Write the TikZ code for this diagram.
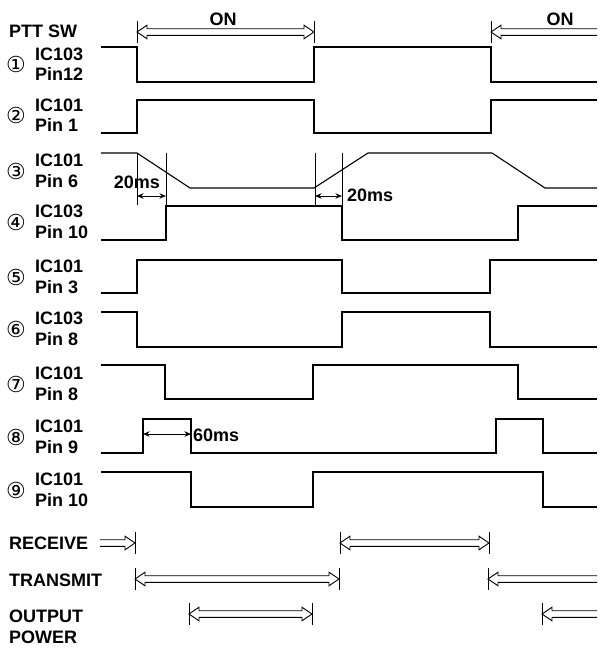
\documentclass[tikz,border=0pt]{standalone}
\usepackage{fontspec}
\setmainfont{Liberation Sans}
\newfontfamily\circfont{DejaVu Sans}
\usepackage{tikz}
\usetikzlibrary{arrows.meta}
\usetikzlibrary{positioning}

\tikzset{
  wave/.style={line width=1.1pt, line join=miter},
  tickbar/.style={line width=0.9pt},
  fat/.style={line width=0.9pt, line join=miter},
  dim/.style={line width=1pt, {Stealth[length=6.5pt,width=5.5pt]}-{Stealth[length=6.5pt,width=5.5pt]}},
  lbl/.style={anchor=west, inner sep=0pt, align=left, font=\fontsize{18}{20.5}\selectfont\bfseries},
  numlbl/.style={inner sep=0pt, font=\circfont\fontsize{22}{22}\selectfont}
}

\newcommand{\circnum}[1]{\ifcase#1\or ①\or ②\or ③\or ④\or ⑤\or ⑥\or ⑦\or ⑧\or ⑨\fi}

% Hollow double-line arrows: head at the end, at the start, or both
\newcommand{\fatright}[2]{\draw[fat] ([yshift=3.3pt]#1) -- ([xshift=-10pt,yshift=3.3pt]#2)
  -- ([xshift=-10pt,yshift=6.8pt]#2) -- (#2) -- ([xshift=-10pt,yshift=-6.8pt]#2)
  -- ([xshift=-10pt,yshift=-3.3pt]#2) -- ([yshift=-3.3pt]#1);}
\newcommand{\fatleft}[2]{\draw[fat] ([yshift=3.3pt]#2) -- ([xshift=10pt,yshift=3.3pt]#1)
  -- ([xshift=10pt,yshift=6.8pt]#1) -- (#1) -- ([xshift=10pt,yshift=-6.8pt]#1)
  -- ([xshift=10pt,yshift=-3.3pt]#1) -- ([yshift=-3.3pt]#2);}
\newcommand{\fatboth}[2]{\draw[fat] ([xshift=10pt,yshift=3.3pt]#1) -- ([xshift=-10pt,yshift=3.3pt]#2)
  -- ([xshift=-10pt,yshift=6.8pt]#2) -- (#2) -- ([xshift=-10pt,yshift=-6.8pt]#2)
  -- ([xshift=-10pt,yshift=-3.3pt]#2) -- ([xshift=10pt,yshift=-3.3pt]#1)
  -- ([xshift=10pt,yshift=-6.8pt]#1) -- (#1) -- ([xshift=10pt,yshift=6.8pt]#1) -- cycle;}

\begin{document}
\begin{tikzpicture}[x=1pt, y=-1pt]
        \useasboundingbox (0,0) rectangle (609,651);

        % Signal names
        \node[lbl] (ptt) at (9,31) {PTT SW};
        \foreach \n/\chip/\pin/\yc in {1/IC103/Pin12/64, 2/IC101/Pin 1/115,
            3/IC101/Pin 6/171, 4/IC103/Pin 10/222, 5/IC101/Pin 3/277,
            6/IC103/Pin 8/329, 7/IC101/Pin 8/384, 8/IC101/Pin 9/437,
            9/IC101/Pin 10/490} {
          \node[numlbl] (n\n) at (16,\yc) {\circnum{\n}};
          \node[lbl] (s\n) at (35,\yc) {\chip\\\pin};
        }
        \node[lbl] (rxl) at (9,543) {RECEIVE};
        \node[lbl] (txl) at (9,580) {TRANSMIT};
        \node[lbl] (opl) at (9,627) {OUTPUT\\POWER};

        % Waveforms
        \draw[wave] (101,47) -- (137,47) -- (137,82) -- (314,82) -- (314,47) -- (491,47) -- (491,82) -- (597,82);
        \draw[wave] (101,133) -- (137,133) -- (137,100) -- (314,100) -- (314,133) -- (491,133) -- (491,100) -- (597,100);
        \draw[wave] (101,153) -- (137,153) -- (190,188) -- (314,188) -- (368,153) -- (492,153) -- (545,188) -- (597,188);
        \draw[wave] (101,240) -- (166,240) -- (166,206) -- (342,206) -- (342,240) -- (518,240) -- (518,206) -- (597,206);
        \draw[wave] (101,293) -- (137,293) -- (137,260) -- (342,260) -- (342,293) -- (490,293) -- (490,260) -- (597,260);
        \draw[wave] (101,312) -- (137,312) -- (137,347) -- (342,347) -- (342,312) -- (490,312) -- (490,347) -- (597,347);
        \draw[wave] (101,365) -- (165,365) -- (165,399) -- (313,399) -- (313,365) -- (518,365) -- (518,399) -- (597,399);
        \draw[wave] (101,453) -- (143,453) -- (143,419) -- (191,419) -- (191,453) -- (496,453) -- (496,419) -- (543,419) -- (543,453) -- (597,453);
        \draw[wave] (101,472) -- (191,472) -- (191,507) -- (313,507) -- (313,472) -- (543,472) -- (543,507) -- (597,507);

        % Delay marks
        \draw[tickbar] (137,153) -- (137,205);
        \draw[tickbar] (166,153) -- (166,206);
        \draw[tickbar] (315,153) -- (315,206);
        \draw[tickbar] (342,153) -- (342,206);
        \coordinate (dA1) at (137,196); \coordinate (dA2) at (166,196);
        \coordinate (dB1) at (315,196); \coordinate (dB2) at (342,196);
        \coordinate (dC1) at (143,434); \coordinate (dC2) at (191,434);
        \draw[dim] (dA1) -- (dA2);
        \draw[dim] (dB1) -- (dB2);
        \draw[dim] (dC1) -- (dC2);
        \node[lbl, anchor=east] (tA) at (160,182) {20ms};
        \node[lbl] (tB) at (347,195) {20ms};
        \node[lbl] (tC) at (193,435) {60ms};

        % Period arrows
        \coordinate (on1) at (137,32); \coordinate (off1) at (314,32);
        \coordinate (on2) at (491,32); \coordinate (onR) at (597,32);
        \coordinate (rx0) at (100,543); \coordinate (rx1) at (135,543);
        \coordinate (rx2) at (340,543); \coordinate (rx3) at (489,543);
        \coordinate (tx1) at (135,579); \coordinate (tx2) at (339,579);
        \coordinate (tx3) at (488,579); \coordinate (txR) at (597,579);
        \coordinate (op1) at (189,614); \coordinate (op2) at (312,614);
        \coordinate (op3) at (542,614); \coordinate (opR) at (597,614);

        \foreach \c in {on1, off1, on2, rx1, rx2, rx3, tx1, tx2, tx3, op1, op2, op3} {
          \draw[tickbar] ([yshift=11pt]\c) -- ([yshift=-11pt]\c);
        }

        \node[lbl, anchor=center] (onA) at (223,19) {ON};
        \node[lbl, anchor=center] (onB) at (560,19) {ON};
        \fatboth{on1}{off1}
        \fatleft{on2}{onR}
        \fatright{rx0}{rx1}
        \fatboth{rx2}{rx3}
        \fatboth{tx1}{tx2}
        \fatleft{tx3}{txR}
        \fatboth{op1}{op2}
        \fatleft{op3}{opR}

      \end{tikzpicture}
\end{document}
